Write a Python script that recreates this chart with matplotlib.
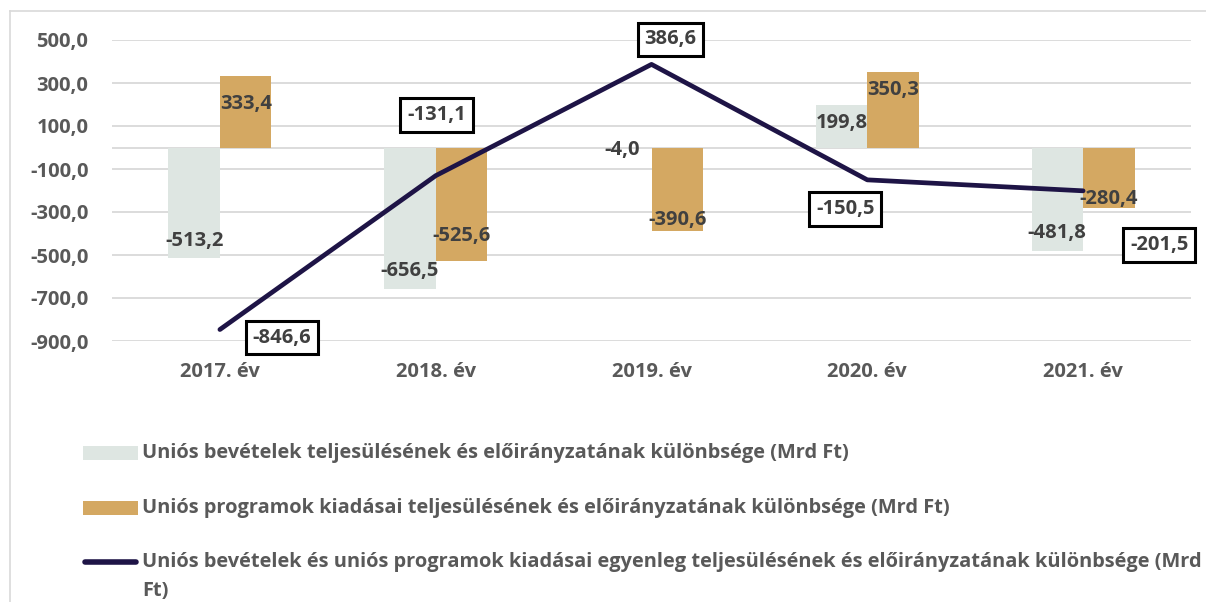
import matplotlib
matplotlib.use("Agg")
import matplotlib.pyplot as plt
from matplotlib.patches import Rectangle
from matplotlib.lines import Line2D
import numpy as np

# ---- data ----
categories = ["2017. év", "2018. év", "2019. év", "2020. év", "2021. év"]
revenue_diff = [-513.2, -656.5, -4.0, 199.8, -481.8]
expense_diff = [333.4, -525.6, -390.6, 350.3, -280.4]
balance_diff = [-846.6, -131.1, 386.6, -150.5, -201.5]
y_ticks = [500, 300, 100, -100, -300, -500, -700, -900]
legend_labels = [
    ["Uniós bevételek teljesülésének és előirányzatának különbsége (Mrd Ft)"],
    ["Uniós programok kiadásai teljesülésének és előirányzatának különbsége (Mrd Ft)"],
    ["Uniós bevételek és uniós programok kiadásai egyenleg teljesülésének és előirányzatának különbsége (Mrd",
     "Ft)"],
]

def fmt(v):
    return f"{v:.1f}".replace(".", ",")

# ---- style ----
FONT = ["Open Sans", "DejaVu Sans"]
plt.rcParams["font.family"] = FONT
W, H = 1206, 602
C_REV = "#DEE6E2"
C_EXP = "#D4A862"
C_LINE = "#1E1446"
C_GRID = "#D9D9D9"
C_TICK = "#595959"
C_LBL = "#404040"
FS = 14.5
FS_LEG = 14.4

# label nudges in pixels (dx, dy image-down positive)
rev_nudge = [(0, 1), (0, 0), (-4, 20), (0, 0), (0, 0)]
exp_nudge = [(0, 10), (0, -7), (0, 7), (0, 0), (0, 9)]
bal_offset = [(62, 8), (1, -61), (19, -25), (-22, 29), (76, 54)]

fig = plt.figure(figsize=(W / 100, H / 100), dpi=100)

def fx(x):
    return x / W

def fy(y):
    return 1 - y / H

# outer chart border (left and top visible)
fig.add_artist(Line2D([fx(10), fx(10)], [fy(11), 0], color=C_GRID, lw=1.2))
fig.add_artist(Line2D([fx(10), 1], [fy(11), fy(11)], color=C_GRID, lw=1.2))

ax = fig.add_axes([fx(112), fy(341), fx(1191) - fx(112), fy(40) - fy(341)])
ax.set_xlim(-0.5, 4.5)
ax.set_ylim(-900, 500)
for s in ax.spines.values():
    s.set_visible(False)

for t in y_ticks:
    ax.axhline(t, color=C_GRID, lw=1.3, zorder=0)
ax.axhline(0, color=C_GRID, lw=1.3, zorder=0)

x = np.arange(len(categories))
bw = 0.239
ax.bar(x - bw / 2, revenue_diff, width=bw, color=C_REV, zorder=2)
ax.bar(x + bw / 2, expense_diff, width=bw, color=C_EXP, zorder=2)
ax.plot(x, balance_diff, color=C_LINE, lw=3.4, zorder=3,
        solid_capstyle="round", solid_joinstyle="round")

ax.set_yticks(y_ticks)
ax.set_yticklabels([fmt(t) for t in y_ticks])
ax.set_xticks(x)
ax.set_xticklabels(categories)
ax.tick_params(axis="y", length=0, pad=17, labelsize=FS, labelcolor=C_TICK)
ax.tick_params(axis="x", length=0, pad=15, labelsize=FS, labelcolor=C_TICK)
for lbl in ax.get_xticklabels() + ax.get_yticklabels():
    lbl.set_fontweight("bold")

INSIDE = 18
for xs, vals, nud in ((x - bw / 2, revenue_diff, rev_nudge), (x + bw / 2, expense_diff, exp_nudge)):
    for xi, v, (ndx, ndy) in zip(xs, vals, nud):
        dy = -INSIDE if v > 0 else INSIDE
        ax.annotate(fmt(v), xy=(xi, v), xytext=(ndx, dy - ndy), textcoords="offset pixels",
                    ha="center", va="center", fontsize=FS, fontweight="bold",
                    color=C_LBL, zorder=5, annotation_clip=False)

for xi, v, (odx, ody) in zip(x, balance_diff, bal_offset):
    ax.annotate(fmt(v), xy=(xi, v), xytext=(odx, -ody), textcoords="offset pixels",
                ha="center", va="center", fontsize=FS, fontweight="bold",
                color=C_LBL, zorder=6, annotation_clip=False,
                bbox=dict(boxstyle="square,pad=0.34", fc="white", ec="black", lw=2.2))

# ---- legend (manual) ----
rows_y = [453, 508, 562]
fig.add_artist(Rectangle((fx(83), fy(460)), fx(138) - fx(83), fy(446) - fy(460),
                         transform=fig.transFigure, color=C_REV, lw=0))
fig.add_artist(Rectangle((fx(83), fy(515)), fx(138) - fx(83), fy(501) - fy(515),
                         transform=fig.transFigure, color=C_EXP, lw=0))
fig.add_artist(Line2D([fx(85), fx(136)], [fy(562), fy(562)], color=C_LINE, lw=4,
                      solid_capstyle="round"))
for yy, lines in zip(rows_y, legend_labels):
    for k, txt in enumerate(lines):
        fig.text(fx(142), fy(yy + 29 * k), txt, ha="left", va="center",
                 fontsize=FS_LEG, fontweight="bold", color=C_TICK)

fig.savefig("out.png", dpi=100, facecolor="white")
